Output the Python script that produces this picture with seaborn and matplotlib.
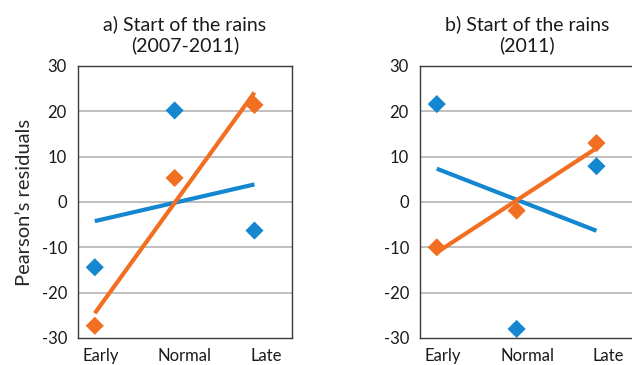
import numpy as np
import pandas as pd
import matplotlib
matplotlib.use("Agg")
import matplotlib.pyplot as plt
import seaborn as sns

# Rain-onset classes and the Pearson's residuals of the two groups
categories = ["Early", "Normal", "Late"]
panel_titles = ["a) Start of the rains\n(2007-2011)", "b) Start of the rains\n(2011)"]
blue_a = [-14.4, 20.2, -6.3]
orange_a = [-27.3, 5.3, 21.4]
blue_b = [21.6, -28.0, 7.9]
orange_b = [-10.0, -1.9, 13.0]
y_ticks = [-30, -20, -10, 0, 10, 20, 30]

BLUE = "#1487d0"
ORANGE = "#f26f21"
SPINE = "#3a3a3a"
GRID = "#b4b4b4"

sns.set_style("white")
plt.rcParams["font.family"] = ["Lato", "DejaVu Sans"]
plt.rcParams["text.color"] = "#1a1a1a"

fig = plt.figure(figsize=(6.32, 3.65), dpi=100)
W, H = 632, 365
ax_w, ax_h = 214, 272
ax_bottom = 338
axes = [
    fig.add_axes([78 / W, (H - ax_bottom) / H, ax_w / W, ax_h / H]),
    fig.add_axes([420 / W, (H - ax_bottom) / H, ax_w / W, ax_h / H]),
]

panels = [(blue_a, orange_a), (blue_b, orange_b)]
for ax, title, (blue, orange) in zip(axes, panel_titles, panels):
    x = np.arange(len(categories), dtype=float)
    df = pd.DataFrame({"x": np.concatenate([x, x]),
                       "y": blue + orange,
                       "group": ["blue"] * 3 + ["orange"] * 3})
    for grp, col in (("blue", BLUE), ("orange", ORANGE)):
        sub = df[df["group"] == grp]
        sns.regplot(data=sub, x="x", y="y", ax=ax, ci=None, scatter=False,
                    truncate=True, color=col,
                    line_kws={"linewidth": 3.0, "solid_capstyle": "butt", "zorder": 3})
    sns.scatterplot(data=df, x="x", y="y", hue="group",
                    palette={"blue": BLUE, "orange": ORANGE},
                    marker="D", s=85, linewidth=0, legend=False, ax=ax, zorder=4)

    ax.set_xlim(-0.21, 2.47)
    ax.set_ylim(-30, 30)
    ax.set_yticks(y_ticks)
    ax.set_yticklabels([str(v) for v in y_ticks])
    ax.set_xticks([0.08, 1.13, 2.15])
    ax.set_xticklabels(categories)
    ax.tick_params(axis="both", length=0, labelsize=12, colors="#1a1a1a")
    ax.tick_params(axis="y", pad=8)
    ax.tick_params(axis="x", pad=7)
    for v in y_ticks[1:-1]:
        ax.axhline(v, color=GRID, linewidth=1.2, zorder=1)
    for s in ax.spines.values():
        s.set_color(SPINE)
        s.set_linewidth(1.0)
        s.set_visible(True)
    ax.set_xlabel("")
    ax.set_ylabel("")
    ax.set_title(title, fontsize=14, linespacing=1.15, pad=11)

axes[0].set_ylabel("Pearson\u2019s residuals", fontsize=14.5, labelpad=6)

fig.savefig("out.png", dpi=100)
